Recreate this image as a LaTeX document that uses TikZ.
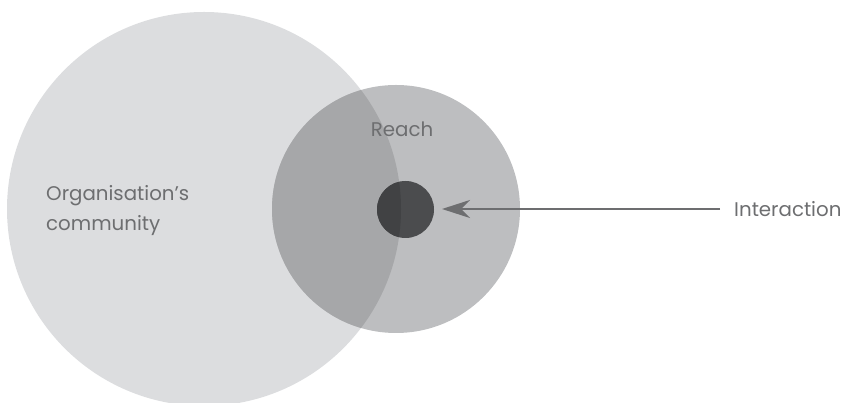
\documentclass[tikz,border=0pt]{standalone}
\usepackage{fontspec}
\setmainfont{Poppins}
\usetikzlibrary{arrows.meta}
\definecolor{bigc}{HTML}{DCDDDF}
\definecolor{midc}{HTML}{BDBEC0}
\definecolor{ovc}{HTML}{A6A7A9}
\definecolor{smallout}{HTML}{4B4C4E}
\definecolor{smallin}{HTML}{414244}
\definecolor{txt}{HTML}{6D6E70}
\begin{document}
\begin{tikzpicture}[x=1pt,y=1pt,
  lbl/.style={text=txt,font=\fontsize{19.8}{30}\selectfont,inner sep=0pt},
  conn/.style={draw=txt,line width=2.6pt,-{Stealth[length=28pt,width=18pt,inset=9pt]}}]
\useasboundingbox (0,0) rectangle (846,403);
% circles
\fill[bigc] (204,194) circle[radius=197];
\fill[midc] (396,194) circle[radius=124];
\begin{scope}
  \clip (204,194) circle[radius=197];
  \fill[ovc] (396,194) circle[radius=124];
\end{scope}
\node[circle,fill=smallout,minimum size=57pt,inner sep=0pt] (inter) at (405.5,193.5) {};
\begin{scope}
  \clip (204,194) circle[radius=197];
  \fill[smallin] (405.5,193.5) circle[radius=28.5];
\end{scope}
% labels
\node[lbl,anchor=west,align=left] (org) at (46,192) {Organisation’s\\community};
\node[lbl,anchor=base] (reach) at (402,266) {Reach};
\node[lbl,anchor=base west] (interlbl) at (734,186) {Interaction};
\coordinate (start) at (720,194);
\coordinate (tip) at (442,194);
\draw[conn] (start) -- (tip);
\end{tikzpicture}
\end{document}
